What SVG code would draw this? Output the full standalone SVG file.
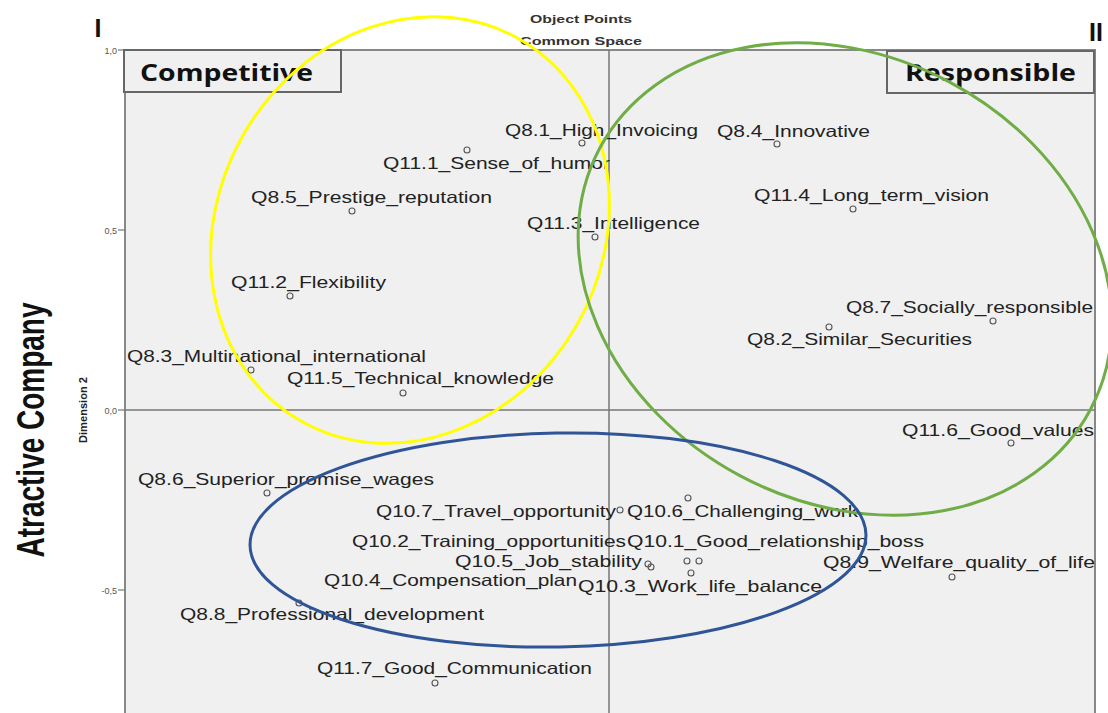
<svg xmlns="http://www.w3.org/2000/svg" width="1108" height="713" viewBox="0 0 1108 713">
<style>
.lbl{font-family:"Liberation Sans",Arial,sans-serif;font-size:16.5px;fill:#222;}
.pt{fill:none;stroke:#555;stroke-width:1.1;}
.tick{font-family:"Liberation Sans",Arial,sans-serif;font-size:9px;fill:#555;text-anchor:end;}
.box{fill:#f0f0f0;stroke:#666;stroke-width:2;}
.boxt{font-family:"Open Sans","Liberation Sans",sans-serif;font-weight:bold;font-size:23px;fill:#111;}
.title{font-family:"Liberation Sans",Arial,sans-serif;font-weight:bold;font-size:11px;fill:#333;text-anchor:middle;}
</style>
<rect width="1108" height="713" fill="#fff"/>
<g id="plot">
<rect x="125" y="50" width="970" height="670" fill="#f0f0f0" stroke="#888" stroke-width="2"/>
<line x1="609" y1="50" x2="609" y2="713" stroke="#777" stroke-width="1.5"/>
<line x1="125" y1="410" x2="1095" y2="410" stroke="#777" stroke-width="1.5"/>
<g stroke="#777" stroke-width="1.2">
<line x1="118" y1="50" x2="125" y2="50"/>
<line x1="118" y1="230" x2="125" y2="230"/>
<line x1="118" y1="410" x2="125" y2="410"/>
<line x1="118" y1="590" x2="125" y2="590"/>
</g>
<text class="tick" x="117" y="54">1,0</text>
<text class="tick" x="117" y="234">0,5</text>
<text class="tick" x="117" y="414">0,0</text>
<text class="tick" x="117" y="594">-0,5</text>
</g>
<g id="titles">
<text class="title" x="581" y="23" textLength="102" lengthAdjust="spacingAndGlyphs">Object Points</text>
<text class="title" x="581" y="45" textLength="122" lengthAdjust="spacingAndGlyphs">Common Space</text>
<text x="98" y="37" font-family="Liberation Sans,sans-serif" font-weight="bold" font-size="25" fill="#111" text-anchor="middle">I</text>
<text x="1096" y="41" font-family="Liberation Sans,sans-serif" font-weight="bold" font-size="25" fill="#111" text-anchor="middle">II</text>
<text transform="translate(87,410) rotate(-90)" font-family="Liberation Sans,sans-serif" font-weight="bold" font-size="10" fill="#222" text-anchor="middle" textLength="66" lengthAdjust="spacingAndGlyphs">Dimension 2</text>
<text transform="translate(44,430) rotate(-90)" font-family="Liberation Sans,sans-serif" font-weight="bold" font-size="38" fill="#111" text-anchor="middle" textLength="255" lengthAdjust="spacingAndGlyphs">Atractive Company</text>
</g>
<g id="box-competitive">
<rect class="box" x="124" y="50" width="217" height="42"/>
<text class="boxt" x="140" y="81" textLength="173" lengthAdjust="spacingAndGlyphs">Competitive</text>
</g>
<g id="box-responsible">
<rect class="box" x="887" y="51" width="207" height="42"/>
<text class="boxt" x="905" y="81" textLength="171" lengthAdjust="spacingAndGlyphs">Responsible</text>
</g>
<g id="points">
<g id="q8-1"><circle class="pt" cx="582" cy="143" r="3"/><text class="lbl" x="505" y="136" textLength="193" lengthAdjust="spacingAndGlyphs">Q8.1_High_Invoicing</text></g>
<g id="q11-1"><circle class="pt" cx="467" cy="150" r="3"/><text class="lbl" x="383" y="169" textLength="227" lengthAdjust="spacingAndGlyphs">Q11.1_Sense_of_humor</text></g>
<g id="q8-5"><circle class="pt" cx="352" cy="211" r="3"/><text class="lbl" x="251" y="203" textLength="241" lengthAdjust="spacingAndGlyphs">Q8.5_Prestige_reputation</text></g>
<g id="q11-3"><circle class="pt" cx="595" cy="237" r="3"/><text class="lbl" x="527" y="229" textLength="173" lengthAdjust="spacingAndGlyphs">Q11.3_Intelligence</text></g>
<g id="q8-4"><circle class="pt" cx="777" cy="144" r="3"/><text class="lbl" x="717" y="137" textLength="153" lengthAdjust="spacingAndGlyphs">Q8.4_Innovative</text></g>
<g id="q11-4"><circle class="pt" cx="853" cy="209" r="3"/><text class="lbl" x="754" y="201" textLength="235" lengthAdjust="spacingAndGlyphs">Q11.4_Long_term_vision</text></g>
<g id="q11-2"><circle class="pt" cx="290" cy="296" r="3"/><text class="lbl" x="231" y="288" textLength="155" lengthAdjust="spacingAndGlyphs">Q11.2_Flexibility</text></g>
<g id="q8-3"><circle class="pt" cx="251" cy="370" r="3"/><text class="lbl" x="127" y="362" textLength="299" lengthAdjust="spacingAndGlyphs">Q8.3_Multinational_international</text></g>
<g id="q11-5"><circle class="pt" cx="403" cy="393" r="3"/><text class="lbl" x="287" y="384" textLength="267" lengthAdjust="spacingAndGlyphs">Q11.5_Technical_knowledge</text></g>
<g id="q8-7"><circle class="pt" cx="993" cy="321" r="3"/><text class="lbl" x="846" y="313" textLength="247" lengthAdjust="spacingAndGlyphs">Q8.7_Socially_responsible</text></g>
<g id="q8-2"><circle class="pt" cx="829" cy="327" r="3"/><text class="lbl" x="747" y="345" textLength="225" lengthAdjust="spacingAndGlyphs">Q8.2_Similar_Securities</text></g>
<g id="q11-6"><circle class="pt" cx="1011" cy="443" r="3"/><text class="lbl" x="902" y="436" textLength="192" lengthAdjust="spacingAndGlyphs">Q11.6_Good_values</text></g>
<g id="q8-6"><circle class="pt" cx="267" cy="493" r="3"/><text class="lbl" x="138" y="485" textLength="296" lengthAdjust="spacingAndGlyphs">Q8.6_Superior_promise_wages</text></g>
<g id="q10-7"><circle class="pt" cx="620" cy="510" r="3"/><text class="lbl" x="376" y="517" textLength="240" lengthAdjust="spacingAndGlyphs">Q10.7_Travel_opportunity</text></g>
<g id="q10-6"><circle class="pt" cx="688" cy="498" r="3"/><text class="lbl" x="627" y="517" textLength="231" lengthAdjust="spacingAndGlyphs">Q10.6_Challenging_work</text></g>
<g id="q10-2"><text class="lbl" x="352" y="547" textLength="274" lengthAdjust="spacingAndGlyphs">Q10.2_Training_opportunities</text></g>
<g id="q10-1"><circle class="pt" cx="687" cy="561" r="3"/><circle class="pt" cx="699" cy="561" r="3"/><text class="lbl" x="627" y="547" textLength="297" lengthAdjust="spacingAndGlyphs">Q10.1_Good_relationship_boss</text></g>
<g id="q10-5"><circle class="pt" cx="648" cy="564" r="3"/><circle class="pt" cx="651" cy="567" r="3"/><text class="lbl" x="455" y="567" textLength="187" lengthAdjust="spacingAndGlyphs">Q10.5_Job_stability</text></g>
<g id="q10-4"><text class="lbl" x="324" y="586" textLength="253" lengthAdjust="spacingAndGlyphs">Q10.4_Compensation_plan</text></g>
<g id="q10-3"><circle class="pt" cx="691" cy="573" r="3"/><text class="lbl" x="578" y="592" textLength="244" lengthAdjust="spacingAndGlyphs">Q10.3_Work_life_balance</text></g>
<g id="q8-9"><circle class="pt" cx="952" cy="577" r="3"/><text class="lbl" x="823" y="568" textLength="272" lengthAdjust="spacingAndGlyphs">Q8.9_Welfare_quality_of_life</text></g>
<g id="q8-8"><circle class="pt" cx="299" cy="603" r="3"/><text class="lbl" x="180" y="620" textLength="304" lengthAdjust="spacingAndGlyphs">Q8.8_Professional_development</text></g>
<g id="q11-7"><circle class="pt" cx="435" cy="683" r="3"/><text class="lbl" x="317" y="674" textLength="275" lengthAdjust="spacingAndGlyphs">Q11.7_Good_Communication</text></g>
</g>
<g id="clusters" fill="none" stroke-width="3">
<ellipse id="cluster-yellow" cx="410" cy="230" rx="192" ry="220" transform="rotate(30 410 230)" stroke="#ffff00"/>
<ellipse id="cluster-green" cx="845" cy="279" rx="278" ry="223" transform="rotate(28 845 279)" stroke="#70ad47"/>
<ellipse id="cluster-blue" cx="558" cy="540" rx="308" ry="107" transform="rotate(-1 558 540)" stroke="#2f5597"/>
</g>
</svg>
